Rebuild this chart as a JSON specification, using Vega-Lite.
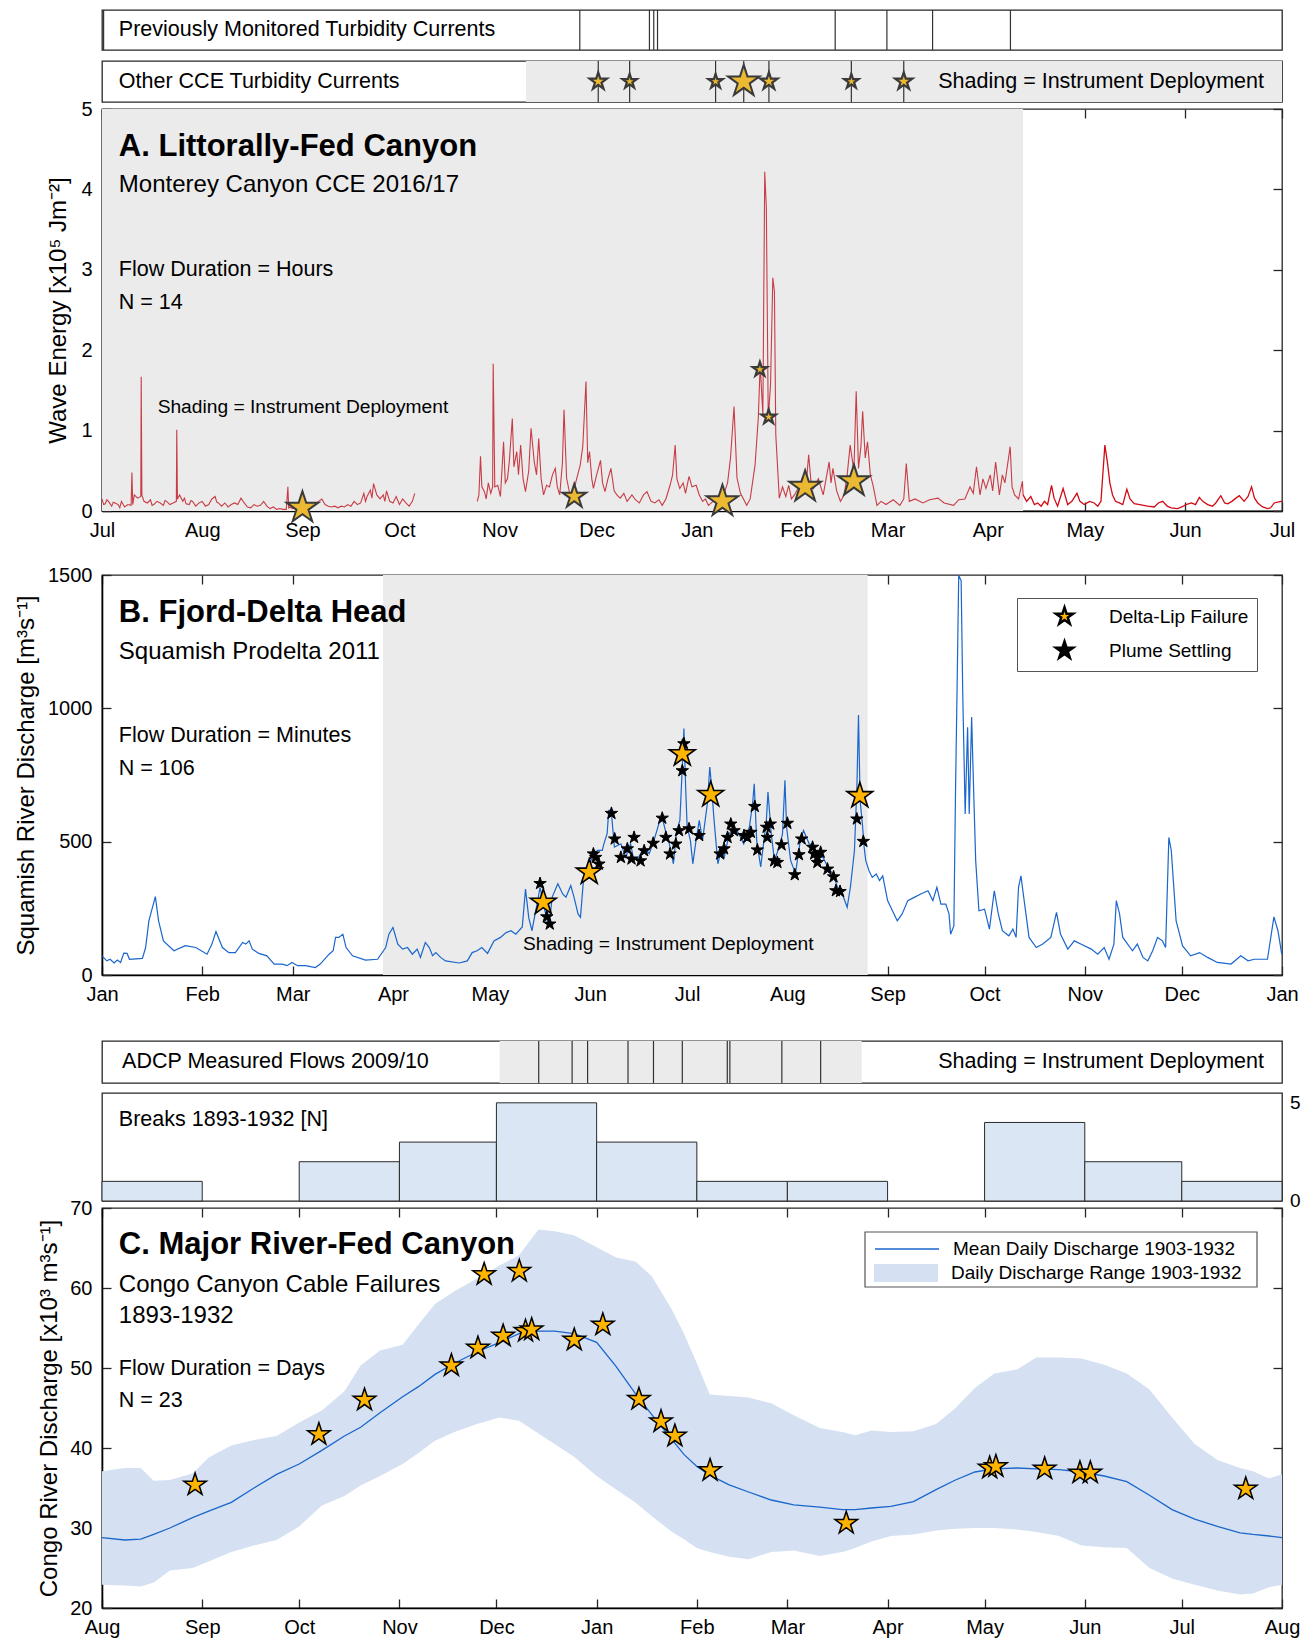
{
"$schema": "https://vega.github.io/schema/vega-lite/v6.json",
"background": "white",
"padding": {"left": 13, "top": 8, "right": 10, "bottom": 10},
"spacing": 0,
"bounds": "flush",
"resolve": {"scale": {"fill": "independent", "stroke": "independent", "color": "independent"}, "legend": {"fill": "independent", "stroke": "independent", "color": "independent"}},
"config": {
 "font": "Liberation Sans",
 "view": {"stroke": "#262626", "strokeWidth": 1.3},
 "axis": {"labelFontSize": 20, "labelColor": "#000", "titleFontSize": 24, "titleFontWeight": "normal", "titleColor": "#000", "tickSize": -9, "tickColor": "#262626", "tickWidth": 1.3, "domainColor": "#000", "domainWidth": 1.6, "labelFlush": false, "labelOverlap": false, "grid": false},
 "axisX": {"labelPadding": 18.5},
 "axisY": {"labelPadding": 19},
 "legend": {"symbolOpacity": 1, "labelLimit": 400}
},
"vconcat": [
{
 "width": 1180, "height": 40,
 "layer": [
  {"data": {"values": [{"d":"2016-07-01T12:00:00Z"},{"d":"2016-11-25T19:00:00Z"},{"d":"2016-12-17T08:00:00Z"},{"d":"2016-12-18T16:00:00Z"},{"d":"2016-12-19T20:00:00Z"},{"d":"2017-02-12T19:00:00Z"},{"d":"2017-02-28T19:00:00Z"},{"d":"2017-03-14T22:00:00Z"},{"d":"2017-04-08"}]},
   "mark": {"type":"rule","color":"#333","strokeWidth":1.2},
   "encoding": {"x": {"field":"d","type":"temporal","scale":{"type":"utc","domain":[{"year":2016,"month":7,"date":1,"utc":true},{"year":2017,"month":7,"date":1,"utc":true}],"nice":false},"axis":null}}},
  {"data": {"values": [{"d":"2016-07-06T05:00:00Z","t":"Previously Monitored Turbidity Currents"}]},
   "mark": {"type":"text","align":"left","baseline":"middle","fontSize":21.5,"color":"#000"},
   "encoding": {"x": {"field":"d","type":"temporal","axis":null}, "text": {"field":"t"}}}
 ]
},
{"width": 1, "height": 11, "data": {"values": [{}]}, "mark": {"type":"point","opacity":0}, "view": {"stroke": "transparent"}},
{
 "width": 1180, "height": 41,
 "layer": [
  {"data": {"values": [{"a":"2016-11-09T03:00:00Z","b":"2017-07-01"}]},
   "mark": {"type":"rect","color":"#ebebeb"},
   "encoding": {"x": {"field":"a","type":"temporal","scale":{"type":"utc","domain":[{"year":2016,"month":7,"date":1,"utc":true},{"year":2017,"month":7,"date":1,"utc":true}],"nice":false},"axis":null}, "x2": {"field":"b"}}},
  {"data": {"values": [{"d":"2016-12-01T12:00:00Z"},{"d":"2016-12-11T05:00:00Z"},{"d":"2017-01-06T19:00:00Z"},{"d":"2017-01-15T12:00:00Z"},{"d":"2017-01-23T07:00:00Z"},{"d":"2017-02-17T19:00:00Z"},{"d":"2017-03-06"}]},
   "mark": {"type":"rule","color":"#333","strokeWidth":1.2},
   "encoding": {"x": {"field":"d","type":"temporal","axis":null}}},
  {"data": {"values": [{"d":"2016-12-11T05:00:00Z"},{"d":"2017-01-06T19:00:00Z"},{"d":"2017-02-17T19:00:00Z"}]},
   "mark": {"type":"point","shape":"M0,-1L0.225,-0.309L0.951,-0.309L0.363,0.118L0.588,0.809L0,0.382L-0.588,0.809L-0.363,0.118L-0.951,-0.309L-0.225,-0.309Z","size":230,"filled":true,"fill":"#ebb932","stroke":"#3a3a3a","strokeWidth":2.2,"opacity":1},
   "encoding": {"x": {"field":"d","type":"temporal","axis":null}}},
  {"data": {"values": [{"d":"2016-12-01T12:00:00Z"},{"d":"2017-01-23T07:00:00Z"},{"d":"2017-03-06"}]},
   "mark": {"type":"point","shape":"M0,-1L0.225,-0.309L0.951,-0.309L0.363,0.118L0.588,0.809L0,0.382L-0.588,0.809L-0.363,0.118L-0.951,-0.309L-0.225,-0.309Z","size":330,"filled":true,"fill":"#ebb932","stroke":"#3a3a3a","strokeWidth":2.2,"opacity":1},
   "encoding": {"x": {"field":"d","type":"temporal","axis":null}}},
  {"data": {"values": [{"d":"2017-01-15T12:00:00Z"}]},
   "mark": {"type":"point","shape":"M0,-1L0.225,-0.309L0.951,-0.309L0.363,0.118L0.588,0.809L0,0.382L-0.588,0.809L-0.363,0.118L-0.951,-0.309L-0.225,-0.309Z","size":1100,"filled":true,"fill":"#ebb932","stroke":"#3a3a3a","strokeWidth":2,"opacity":1},
   "encoding": {"x": {"field":"d","type":"temporal","axis":null}}},
  {"data": {"values": [{"d":"2016-07-06T05:00:00Z","t":"Other CCE Turbidity Currents"}]},
   "mark": {"type":"text","align":"left","baseline":"middle","fontSize":21.5,"color":"#000"},
   "encoding": {"x": {"field":"d","type":"temporal","axis":null}, "text": {"field":"t"}}},
  {"data": {"values": [{"d":"2017-06-25T10:00:00Z","t":"Shading = Instrument Deployment"}]},
   "mark": {"type":"text","align":"right","baseline":"middle","fontSize":21.5,"color":"#000"},
   "encoding": {"x": {"field":"d","type":"temporal","axis":null}, "text": {"field":"t"}}}
 ]
},
{"width": 1, "height": 7, "data": {"values": [{}]}, "mark": {"type":"point","opacity":0}, "view": {"stroke": "transparent"}},
{
 "width": 1180, "height": 402,
 "layer": [
  {"data": {"values": [{"a":"2016-07-01","b":"2017-04-11T22:00:00Z"}]},
   "mark": {"type":"rect","color":"#ebebeb"},
   "encoding": {"x": {"field":"a","type":"temporal","scale":{"type":"utc","domain":[{"year":2016,"month":7,"date":1,"utc":true},{"year":2017,"month":7,"date":1,"utc":true}],"nice":false},"axis":{"orient":"bottom","format":"%b","tickCount":"month","title":null}}, "x2": {"field":"b"}}},
  {"data": {"values": [
{"d":"2016-07-01","v":0.15},{"d":"2016-07-01T12:00:00Z","v":0.08},{"d":"2016-07-02","v":0.09},{"d":"2016-07-02T12:00:00Z","v":0.14},{"d":"2016-07-03","v":0.12},{"d":"2016-07-04","v":0.06},{"d":"2016-07-04T12:00:00Z","v":0.11},{"d":"2016-07-05","v":0.10},{"d":"2016-07-06","v":0.08},{"d":"2016-07-06T12:00:00Z","v":0.04},{"d":"2016-07-07","v":0.12},{"d":"2016-07-08","v":0.05},{"d":"2016-07-09","v":0.08},{"d":"2016-07-10","v":0.07},{"d":"2016-07-10T06:00:00Z","v":0.48},{"d":"2016-07-10T12:00:00Z","v":0.08},{"d":"2016-07-11","v":0.20},{"d":"2016-07-12","v":0.16},{"d":"2016-07-13","v":0.18},{"d":"2016-07-13T03:00:00Z","v":1.67},{"d":"2016-07-13T08:00:00Z","v":0.20},{"d":"2016-07-14","v":0.12},{"d":"2016-07-15","v":0.10},{"d":"2016-07-16","v":0.14},{"d":"2016-07-16T12:00:00Z","v":0.07},{"d":"2016-07-17","v":0.08},{"d":"2016-07-18","v":0.12},{"d":"2016-07-19","v":0.10},{"d":"2016-07-20","v":0.07},{"d":"2016-07-20T12:00:00Z","v":0.13},{"d":"2016-07-21","v":0.12},{"d":"2016-07-22","v":0.08},{"d":"2016-07-23","v":0.10},{"d":"2016-07-24","v":0.12},{"d":"2016-07-24T03:00:00Z","v":1.01},{"d":"2016-07-24T08:00:00Z","v":0.15},{"d":"2016-07-25","v":0.20},{"d":"2016-07-26","v":0.12},{"d":"2016-07-26T12:00:00Z","v":0.16},{"d":"2016-07-27","v":0.09},{"d":"2016-07-28","v":0.08},{"d":"2016-07-28T12:00:00Z","v":0.13},{"d":"2016-07-29","v":0.12},{"d":"2016-07-30","v":0.06},{"d":"2016-07-31","v":0.10},{"d":"2016-08-01","v":0.12},{"d":"2016-08-02","v":0.06},{"d":"2016-08-03","v":0.08},{"d":"2016-08-04","v":0.15},{"d":"2016-08-05","v":0.18},{"d":"2016-08-05T12:00:00Z","v":0.11},{"d":"2016-08-06","v":0.10},{"d":"2016-08-07","v":0.06},{"d":"2016-08-08","v":0.10},{"d":"2016-08-09","v":0.05},{"d":"2016-08-10","v":0.08},{"d":"2016-08-11","v":0.10},{"d":"2016-08-12","v":0.08},{"d":"2016-08-13","v":0.16},{"d":"2016-08-14","v":0.10},{"d":"2016-08-15","v":0.05},{"d":"2016-08-16","v":0.04},{"d":"2016-08-17","v":0.08},{"d":"2016-08-18","v":0.06},{"d":"2016-08-19","v":0.07},{"d":"2016-08-20","v":0.12},{"d":"2016-08-21","v":0.06},{"d":"2016-08-22","v":0.03},{"d":"2016-08-23","v":0.05},{"d":"2016-08-24","v":0.02},{"d":"2016-08-25","v":0.03},{"d":"2016-08-26","v":0.02},{"d":"2016-08-27","v":0.02},{"d":"2016-08-27T12:00:00Z","v":0.30},{"d":"2016-08-27T18:00:00Z","v":0.03},{"d":"2016-08-28","v":0.05},{"d":"2016-08-29","v":0.03},{"d":"2016-08-30","v":0.06},{"d":"2016-08-31","v":0.08},{"d":"2016-09-01","v":0.10},{"d":"2016-09-02","v":0.12},{"d":"2016-09-03","v":0.08},{"d":"2016-09-04","v":0.10},{"d":"2016-09-05","v":0.08},{"d":"2016-09-06","v":0.12},{"d":"2016-09-07","v":0.15},{"d":"2016-09-08","v":0.08},{"d":"2016-09-09","v":0.06},{"d":"2016-09-10","v":0.05},{"d":"2016-09-11","v":0.06},{"d":"2016-09-12","v":0.04},{"d":"2016-09-13","v":0.06},{"d":"2016-09-14","v":0.05},{"d":"2016-09-15","v":0.08},{"d":"2016-09-16","v":0.06},{"d":"2016-09-17","v":0.12},{"d":"2016-09-18","v":0.08},{"d":"2016-09-19","v":0.10},{"d":"2016-09-20","v":0.22},{"d":"2016-09-20T12:00:00Z","v":0.12},{"d":"2016-09-21","v":0.18},{"d":"2016-09-22","v":0.26},{"d":"2016-09-22T12:00:00Z","v":0.16},{"d":"2016-09-23","v":0.34},{"d":"2016-09-24","v":0.20},{"d":"2016-09-25","v":0.15},{"d":"2016-09-26","v":0.20},{"d":"2016-09-26T12:00:00Z","v":0.12},{"d":"2016-09-27","v":0.25},{"d":"2016-09-28","v":0.12},{"d":"2016-09-29","v":0.10},{"d":"2016-09-30","v":0.18},{"d":"2016-10-01","v":0.08},{"d":"2016-10-02","v":0.15},{"d":"2016-10-03","v":0.10},{"d":"2016-10-04","v":0.06},{"d":"2016-10-05","v":0.12},{"d":"2016-10-05T18:00:00Z","v":0.22}
  ]},
   "mark": {"type":"line","color":"#c83c46","strokeWidth":1.1},
   "encoding": {"x": {"field":"d","type":"temporal","axis":null}, "y": {"field":"v","type":"quantitative","scale":{"domain":[0,5],"nice":false},"axis":{"orient":"left","values":[0,1,2,3,4,5],"title":"Wave Energy [x10⁵ Jm⁻²]","titleX":-32}}}},
  {"data": {"values": [
{"d":"2016-10-25T02:00:00Z","v":0.12},{"d":"2016-10-25T14:00:00Z","v":0.20},{"d":"2016-10-26T02:00:00Z","v":0.68},{"d":"2016-10-26T12:00:00Z","v":0.30},{"d":"2016-10-27T07:00:00Z","v":0.24},{"d":"2016-10-27T20:00:00Z","v":0.15},{"d":"2016-10-28T12:00:00Z","v":0.35},{"d":"2016-10-29T06:00:00Z","v":0.22},{"d":"2016-10-29T20:00:00Z","v":0.30},{"d":"2016-10-30T00:00:00Z","v":1.83},{"d":"2016-10-30T12:00:00Z","v":0.30},{"d":"2016-10-31T10:00:00Z","v":0.32},{"d":"2016-11-01T06:00:00Z","v":0.18},{"d":"2016-11-02T05:00:00Z","v":0.86},{"d":"2016-11-02T18:00:00Z","v":0.35},{"d":"2016-11-03T10:00:00Z","v":0.40},{"d":"2016-11-04T00:00:00Z","v":0.62},{"d":"2016-11-04T22:00:00Z","v":1.15},{"d":"2016-11-05T10:00:00Z","v":0.55},{"d":"2016-11-06T07:00:00Z","v":0.74},{"d":"2016-11-06T20:00:00Z","v":0.45},{"d":"2016-11-07T12:00:00Z","v":0.82},{"d":"2016-11-08T06:00:00Z","v":0.40},{"d":"2016-11-09T00:00:00Z","v":0.24},{"d":"2016-11-10T00:00:00Z","v":0.50},{"d":"2016-11-10T17:00:00Z","v":1.03},{"d":"2016-11-11T17:00:00Z","v":0.61},{"d":"2016-11-12T10:00:00Z","v":0.45},{"d":"2016-11-13T02:00:00Z","v":0.90},{"d":"2016-11-13T20:00:00Z","v":0.40},{"d":"2016-11-14T14:00:00Z","v":0.20},{"d":"2016-11-15T12:00:00Z","v":0.32},{"d":"2016-11-16T10:00:00Z","v":0.30},{"d":"2016-11-17T08:00:00Z","v":0.45},{"d":"2016-11-18T05:00:00Z","v":0.53},{"d":"2016-11-18T20:00:00Z","v":0.30},{"d":"2016-11-19T14:00:00Z","v":0.20},{"d":"2016-11-20T10:00:00Z","v":0.60},{"d":"2016-11-20T22:00:00Z","v":1.26},{"d":"2016-11-21T17:00:00Z","v":0.41},{"d":"2016-11-22T12:00:00Z","v":0.25},{"d":"2016-11-23T12:00:00Z","v":0.12},{"d":"2016-11-24T12:00:00Z","v":0.35},{"d":"2016-11-25T22:00:00Z","v":0.57},{"d":"2016-11-26T17:00:00Z","v":0.80},{"d":"2016-11-27T17:00:00Z","v":1.61},{"d":"2016-11-28T06:00:00Z","v":0.60},{"d":"2016-11-28T19:00:00Z","v":0.74},{"d":"2016-11-29T12:00:00Z","v":0.40},{"d":"2016-11-30T00:00:00Z","v":0.28},{"d":"2016-12-01T00:00:00Z","v":0.45},{"d":"2016-12-02T05:00:00Z","v":0.63},{"d":"2016-12-02T20:00:00Z","v":0.35},{"d":"2016-12-03T14:00:00Z","v":0.24},{"d":"2016-12-04T12:00:00Z","v":0.40},{"d":"2016-12-05T10:00:00Z","v":0.53},{"d":"2016-12-06T10:00:00Z","v":0.25},{"d":"2016-12-07T06:00:00Z","v":0.20},{"d":"2016-12-08T07:00:00Z","v":0.16},{"d":"2016-12-09T10:00:00Z","v":0.22},{"d":"2016-12-10T10:00:00Z","v":0.12},{"d":"2016-12-11T22:00:00Z","v":0.20},{"d":"2016-12-13T00:00:00Z","v":0.14},{"d":"2016-12-14T05:00:00Z","v":0.10},{"d":"2016-12-15T12:00:00Z","v":0.20},{"d":"2016-12-16T14:00:00Z","v":0.24},{"d":"2016-12-17T20:00:00Z","v":0.12},{"d":"2016-12-19T00:00:00Z","v":0.10},{"d":"2016-12-20T06:00:00Z","v":0.14},{"d":"2016-12-21T07:00:00Z","v":0.07},{"d":"2016-12-22T10:00:00Z","v":0.15},{"d":"2016-12-23T17:00:00Z","v":0.32},{"d":"2016-12-24T12:00:00Z","v":0.45},{"d":"2016-12-25T07:00:00Z","v":0.82},{"d":"2016-12-25T20:00:00Z","v":0.40},{"d":"2016-12-26T17:00:00Z","v":0.28},{"d":"2016-12-27T18:00:00Z","v":0.35},{"d":"2016-12-28T12:00:00Z","v":0.22},{"d":"2016-12-29T14:00:00Z","v":0.43},{"d":"2016-12-30T12:00:00Z","v":0.30},{"d":"2016-12-31T19:00:00Z","v":0.32},{"d":"2017-01-01T18:00:00Z","v":0.20},{"d":"2017-01-02T19:00:00Z","v":0.12},{"d":"2017-01-03T16:00:00Z","v":0.15},{"d":"2017-01-04T14:00:00Z","v":0.07},{"d":"2017-01-06T00:00:00Z","v":0.12},{"d":"2017-01-07T12:00:00Z","v":0.15},{"d":"2017-01-09T07:00:00Z","v":0.20},{"d":"2017-01-10T12:00:00Z","v":0.35},{"d":"2017-01-11T10:00:00Z","v":0.66},{"d":"2017-01-12T12:00:00Z","v":1.30},{"d":"2017-01-13T10:00:00Z","v":0.41},{"d":"2017-01-14T12:00:00Z","v":0.22},{"d":"2017-01-16T10:00:00Z","v":0.07},{"d":"2017-01-17T12:00:00Z","v":0.15},{"d":"2017-01-19T00:00:00Z","v":0.57},{"d":"2017-01-20T00:00:00Z","v":1.15},{"d":"2017-01-20T14:00:00Z","v":1.82},{"d":"2017-01-21T10:00:00Z","v":1.20},{"d":"2017-01-22T00:00:00Z","v":4.22},{"d":"2017-01-22T12:00:00Z","v":3.77},{"d":"2017-01-23T02:00:00Z","v":1.15},{"d":"2017-01-23T19:00:00Z","v":1.57},{"d":"2017-01-24T12:00:00Z","v":2.90},{"d":"2017-01-25T00:00:00Z","v":2.73},{"d":"2017-01-25T10:00:00Z","v":0.95},{"d":"2017-01-26T12:00:00Z","v":0.16},{"d":"2017-01-27T12:00:00Z","v":0.30},{"d":"2017-01-28T12:00:00Z","v":0.18},{"d":"2017-01-29T10:00:00Z","v":0.32},{"d":"2017-01-30T06:00:00Z","v":0.15},{"d":"2017-01-31T05:00:00Z","v":0.20},{"d":"2017-02-01T12:00:00Z","v":0.30},{"d":"2017-02-02T14:00:00Z","v":0.41},{"d":"2017-02-03T16:00:00Z","v":0.25},{"d":"2017-02-04T14:00:00Z","v":0.70},{"d":"2017-02-05T08:00:00Z","v":0.35},{"d":"2017-02-06T02:00:00Z","v":0.28},{"d":"2017-02-07T14:00:00Z","v":0.40},{"d":"2017-02-09T02:00:00Z","v":0.20},{"d":"2017-02-10T22:00:00Z","v":0.61},{"d":"2017-02-11T12:00:00Z","v":0.35},{"d":"2017-02-12T02:00:00Z","v":0.53},{"d":"2017-02-13T06:00:00Z","v":0.25},{"d":"2017-02-14T10:00:00Z","v":0.12},{"d":"2017-02-15T14:00:00Z","v":0.20},{"d":"2017-02-16T12:00:00Z","v":0.45},{"d":"2017-02-17T10:00:00Z","v":0.82},{"d":"2017-02-18T14:00:00Z","v":0.50},{"d":"2017-02-19T07:00:00Z","v":1.49},{"d":"2017-02-20T00:00:00Z","v":0.53},{"d":"2017-02-20T18:00:00Z","v":0.80},{"d":"2017-02-21T07:00:00Z","v":1.24},{"d":"2017-02-22T02:00:00Z","v":0.66},{"d":"2017-02-22T19:00:00Z","v":0.86},{"d":"2017-02-23T16:00:00Z","v":0.45},{"d":"2017-02-24T12:00:00Z","v":0.32},{"d":"2017-02-25T17:00:00Z","v":0.07},{"d":"2017-02-27T00:00:00Z","v":0.12},{"d":"2017-02-28T12:00:00Z","v":0.08},{"d":"2017-03-01T05:00:00Z","v":0.10},{"d":"2017-03-02T18:00:00Z","v":0.14},{"d":"2017-03-04T19:00:00Z","v":0.07},{"d":"2017-03-06T00:00:00Z","v":0.15},{"d":"2017-03-06T19:00:00Z","v":0.59},{"d":"2017-03-07T17:00:00Z","v":0.12},{"d":"2017-03-09T12:00:00Z","v":0.15},{"d":"2017-03-11T22:00:00Z","v":0.10},{"d":"2017-03-14T00:00:00Z","v":0.14},{"d":"2017-03-16T14:00:00Z","v":0.16},{"d":"2017-03-18T12:00:00Z","v":0.10},{"d":"2017-03-21T10:00:00Z","v":0.07},{"d":"2017-03-23T00:00:00Z","v":0.14},{"d":"2017-03-24T22:00:00Z","v":0.15},{"d":"2017-03-26T12:00:00Z","v":0.30},{"d":"2017-03-27T12:00:00Z","v":0.22},{"d":"2017-03-28T12:00:00Z","v":0.55},{"d":"2017-03-29T14:00:00Z","v":0.20},{"d":"2017-03-30T12:00:00Z","v":0.40},{"d":"2017-03-31T10:00:00Z","v":0.28},{"d":"2017-04-01T18:00:00Z","v":0.45},{"d":"2017-04-02T12:00:00Z","v":0.25},{"d":"2017-04-03T10:00:00Z","v":0.61},{"d":"2017-04-04T14:00:00Z","v":0.20},{"d":"2017-04-05T12:00:00Z","v":0.45},{"d":"2017-04-06T07:00:00Z","v":0.35},{"d":"2017-04-07T22:00:00Z","v":0.80},{"d":"2017-04-08T12:00:00Z","v":0.30},{"d":"2017-04-09T07:00:00Z","v":0.20},{"d":"2017-04-10T12:00:00Z","v":0.15},{"d":"2017-04-11T17:00:00Z","v":0.37},{"d":"2017-04-11T22:00:00Z","v":0.20}
  ]},
   "mark": {"type":"line","color":"#c83c46","strokeWidth":1.1},
   "encoding": {"x": {"field":"d","type":"temporal","axis":null}, "y": {"field":"v","type":"quantitative","axis":null}}},
  {"data": {"values": [
{"d":"2017-04-11T22:00:00Z","v":0.20},{"d":"2017-04-13T00:00:00Z","v":0.12},{"d":"2017-04-14T07:00:00Z","v":0.18},{"d":"2017-04-15T10:00:00Z","v":0.08},{"d":"2017-04-16T10:00:00Z","v":0.10},{"d":"2017-04-17T12:00:00Z","v":0.06},{"d":"2017-04-18T12:00:00Z","v":0.12},{"d":"2017-04-19T12:00:00Z","v":0.08},{"d":"2017-04-20T17:00:00Z","v":0.32},{"d":"2017-04-21T12:00:00Z","v":0.16},{"d":"2017-04-22T14:00:00Z","v":0.06},{"d":"2017-04-24T07:00:00Z","v":0.28},{"d":"2017-04-25T17:00:00Z","v":0.08},{"d":"2017-04-27T00:00:00Z","v":0.12},{"d":"2017-04-28T14:00:00Z","v":0.22},{"d":"2017-04-29T12:00:00Z","v":0.12},{"d":"2017-04-30T19:00:00Z","v":0.08},{"d":"2017-05-02T12:00:00Z","v":0.12},{"d":"2017-05-03T22:00:00Z","v":0.10},{"d":"2017-05-05T00:00:00Z","v":0.06},{"d":"2017-05-06T00:00:00Z","v":0.12},{"d":"2017-05-07T05:00:00Z","v":0.82},{"d":"2017-05-08T02:00:00Z","v":0.58},{"d":"2017-05-08T18:00:00Z","v":0.35},{"d":"2017-05-09T14:00:00Z","v":0.20},{"d":"2017-05-10T12:00:00Z","v":0.12},{"d":"2017-05-11T17:00:00Z","v":0.10},{"d":"2017-05-12T18:00:00Z","v":0.08},{"d":"2017-05-14T00:00:00Z","v":0.27},{"d":"2017-05-15T00:00:00Z","v":0.15},{"d":"2017-05-16T07:00:00Z","v":0.09},{"d":"2017-05-18T00:00:00Z","v":0.08},{"d":"2017-05-20T10:00:00Z","v":0.06},{"d":"2017-05-22T12:00:00Z","v":0.05},{"d":"2017-05-23T18:00:00Z","v":0.10},{"d":"2017-05-25T02:00:00Z","v":0.12},{"d":"2017-05-26T12:00:00Z","v":0.06},{"d":"2017-05-27T17:00:00Z","v":0.04},{"d":"2017-05-29T17:00:00Z","v":0.03},{"d":"2017-05-31T00:00:00Z","v":0.05},{"d":"2017-06-01T07:00:00Z","v":0.08},{"d":"2017-06-03T00:00:00Z","v":0.10},{"d":"2017-06-04T06:00:00Z","v":0.08},{"d":"2017-06-05T10:00:00Z","v":0.17},{"d":"2017-06-06T12:00:00Z","v":0.12},{"d":"2017-06-08T00:00:00Z","v":0.08},{"d":"2017-06-09T12:00:00Z","v":0.06},{"d":"2017-06-10T12:00:00Z","v":0.10},{"d":"2017-06-12T02:00:00Z","v":0.19},{"d":"2017-06-13T06:00:00Z","v":0.10},{"d":"2017-06-14T05:00:00Z","v":0.09},{"d":"2017-06-15T12:00:00Z","v":0.12},{"d":"2017-06-16T18:00:00Z","v":0.16},{"d":"2017-06-17T19:00:00Z","v":0.19},{"d":"2017-06-19T07:00:00Z","v":0.12},{"d":"2017-06-20T12:00:00Z","v":0.18},{"d":"2017-06-21T14:00:00Z","v":0.30},{"d":"2017-06-22T12:00:00Z","v":0.16},{"d":"2017-06-23T12:00:00Z","v":0.10},{"d":"2017-06-25T00:00:00Z","v":0.05},{"d":"2017-06-26T14:00:00Z","v":0.03},{"d":"2017-06-27T12:00:00Z","v":0.04},{"d":"2017-06-28T14:00:00Z","v":0.10},{"d":"2017-06-30T17:00:00Z","v":0.12},{"d":"2017-07-01","v":0.12}
  ]},
   "mark": {"type":"line","color":"#d20a14","strokeWidth":1.3},
   "encoding": {"x": {"field":"d","type":"temporal","axis":null}, "y": {"field":"v","type":"quantitative","axis":null}}},
  {"data": {"values": [{"d":"2017-01-20T12:00:00Z","v":1.76},{"d":"2017-01-23T05:00:00Z","v":1.17}]},
   "mark": {"type":"point","shape":"M0,-1L0.225,-0.309L0.951,-0.309L0.363,0.118L0.588,0.809L0,0.382L-0.588,0.809L-0.363,0.118L-0.951,-0.309L-0.225,-0.309Z","size":230,"filled":true,"fill":"#ebb932","stroke":"#3a3a3a","strokeWidth":2.2,"opacity":1},
   "encoding": {"x": {"field":"d","type":"temporal","axis":null}, "y": {"field":"v","type":"quantitative","axis":null}}},
  {"data": {"values": [{"d":"2016-11-24T02:00:00Z","v":0.18}]},
   "mark": {"type":"point","shape":"M0,-1L0.225,-0.309L0.951,-0.309L0.363,0.118L0.588,0.809L0,0.382L-0.588,0.809L-0.363,0.118L-0.951,-0.309L-0.225,-0.309Z","size":620,"filled":true,"fill":"#ebb932","stroke":"#3a3a3a","strokeWidth":2,"opacity":1},
   "encoding": {"x": {"field":"d","type":"temporal","axis":null}, "y": {"field":"v","type":"quantitative","axis":null}}},
  {"data": {"values": [{"d":"2016-09-01","v":0.04},{"d":"2017-01-08T22:00:00Z","v":0.12},{"d":"2017-02-03T12:00:00Z","v":0.30},{"d":"2017-02-18T14:00:00Z","v":0.37}]},
   "mark": {"type":"point","shape":"M0,-1L0.225,-0.309L0.951,-0.309L0.363,0.118L0.588,0.809L0,0.382L-0.588,0.809L-0.363,0.118L-0.951,-0.309L-0.225,-0.309Z","size":1100,"filled":true,"fill":"#ebb932","stroke":"#3a3a3a","strokeWidth":2,"opacity":1},
   "encoding": {"x": {"field":"d","type":"temporal","axis":null}, "y": {"field":"v","type":"quantitative","axis":null}}},
  {"data": {"values": [{"d":"2016-07-06T05:00:00Z","v":4.53,"t":"A. Littorally-Fed Canyon"}]},
   "mark": {"type":"text","align":"left","baseline":"middle","fontSize":31,"fontWeight":"bold","color":"#000"},
   "encoding": {"x": {"field":"d","type":"temporal","axis":null}, "y": {"field":"v","type":"quantitative","axis":null}, "text": {"field":"t"}}},
  {"data": {"values": [{"d":"2016-07-06T05:00:00Z","v":4.05,"t":"Monterey Canyon CCE 2016/17"}]},
   "mark": {"type":"text","align":"left","baseline":"middle","fontSize":24,"color":"#000"},
   "encoding": {"x": {"field":"d","type":"temporal","axis":null}, "y": {"field":"v","type":"quantitative","axis":null}, "text": {"field":"t"}}},
  {"data": {"values": [{"d":"2016-07-06T05:00:00Z","v":3.0,"t":"Flow Duration = Hours"},{"d":"2016-07-06T05:00:00Z","v":2.59,"t":"N = 14"}]},
   "mark": {"type":"text","align":"left","baseline":"middle","fontSize":21.5,"color":"#000"},
   "encoding": {"x": {"field":"d","type":"temporal","axis":null}, "y": {"field":"v","type":"quantitative","axis":null}, "text": {"field":"t"}}},
  {"data": {"values": [{"d":"2016-07-18T05:00:00Z","v":1.29,"t":"Shading = Instrument Deployment"}]},
   "mark": {"type":"text","align":"left","baseline":"middle","fontSize":19.2,"color":"#000"},
   "encoding": {"x": {"field":"d","type":"temporal","axis":null}, "y": {"field":"v","type":"quantitative","axis":null}, "text": {"field":"t"}}},
  {"data": {"values": []},
   "mark": {"type":"point","opacity":0},
   "encoding": {"x": {"field":"d","type":"temporal","axis":{"orient":"top","labels":false,"domain":false,"title":null,"tickCount":"month"}}, "y": {"field":"v","type":"quantitative","axis":{"orient":"right","labels":false,"domain":false,"title":null,"values":[0,1,2,3,4,5]}}}}
 ]
},
{"width": 1, "height": 64, "data": {"values": [{}]}, "mark": {"type":"point","opacity":0}, "view": {"stroke": "transparent"}},
{
 "width": 1180, "height": 400,
 "layer": [
  {"data": {"values": [{"a":"2011-03-28T22:00:00Z","b":"2011-08-25T20:00:00Z"}]},
   "mark": {"type":"rect","color":"#ebebeb"},
   "encoding": {"x": {"field":"a","type":"temporal","scale":{"type":"utc","domain":[{"year":2011,"month":1,"date":1,"utc":true},{"year":2012,"month":1,"date":1,"utc":true}],"nice":false},"axis":{"orient":"bottom","format":"%b","tickCount":"month","title":null}}, "x2": {"field":"b"}}},
  {"data": {"values": [
{"d":"2011-01-01","v":72},{"d":"2011-01-02T12:00:00Z","v":53},{"d":"2011-01-03T12:00:00Z","v":59},{"d":"2011-01-04T18:00:00Z","v":45},{"d":"2011-01-05T18:00:00Z","v":56},{"d":"2011-01-06T18:00:00Z","v":47},{"d":"2011-01-07T18:00:00Z","v":82},{"d":"2011-01-08T18:00:00Z","v":81},{"d":"2011-01-09T12:00:00Z","v":59},{"d":"2011-01-13T12:00:00Z","v":62},{"d":"2011-01-14T12:00:00Z","v":103},{"d":"2011-01-15T12:00:00Z","v":203},{"d":"2011-01-17T12:00:00Z","v":294},{"d":"2011-01-18T12:00:00Z","v":203},{"d":"2011-01-20","v":128},{"d":"2011-01-23T06:00:00Z","v":91},{"d":"2011-01-26T18:00:00Z","v":110},{"d":"2011-01-30","v":103},{"d":"2011-02-02T12:00:00Z","v":78},{"d":"2011-02-04","v":116},{"d":"2011-02-05T06:00:00Z","v":163},{"d":"2011-02-07T06:00:00Z","v":103},{"d":"2011-02-09T06:00:00Z","v":84},{"d":"2011-02-11T06:00:00Z","v":84},{"d":"2011-02-13T12:00:00Z","v":122},{"d":"2011-02-14T12:00:00Z","v":116},{"d":"2011-02-15T12:00:00Z","v":128},{"d":"2011-02-16T12:00:00Z","v":97},{"d":"2011-02-18T12:00:00Z","v":81},{"d":"2011-02-21","v":72},{"d":"2011-02-23T06:00:00Z","v":41},{"d":"2011-02-25T18:00:00Z","v":41},{"d":"2011-02-27T06:00:00Z","v":35},{"d":"2011-02-28T18:00:00Z","v":47},{"d":"2011-03-02T12:00:00Z","v":35},{"d":"2011-03-05","v":35},{"d":"2011-03-08","v":28},{"d":"2011-03-09T12:00:00Z","v":41},{"d":"2011-03-12T06:00:00Z","v":78},{"d":"2011-03-13T12:00:00Z","v":91},{"d":"2011-03-14T06:00:00Z","v":141},{"d":"2011-03-15T06:00:00Z","v":141},{"d":"2011-03-16T12:00:00Z","v":153},{"d":"2011-03-17T12:00:00Z","v":103},{"d":"2011-03-19T12:00:00Z","v":72},{"d":"2011-03-23T12:00:00Z","v":56},{"d":"2011-03-27T06:00:00Z","v":59},{"d":"2011-03-29T18:00:00Z","v":103},{"d":"2011-03-30T18:00:00Z","v":153},{"d":"2011-04-01","v":178},{"d":"2011-04-02T12:00:00Z","v":116},{"d":"2011-04-04","v":97},{"d":"2011-04-05T12:00:00Z","v":103},{"d":"2011-04-07","v":78},{"d":"2011-04-08T12:00:00Z","v":97},{"d":"2011-04-09T12:00:00Z","v":66},{"d":"2011-04-11","v":122},{"d":"2011-04-12T06:00:00Z","v":103},{"d":"2011-04-13T06:00:00Z","v":72},{"d":"2011-04-14T06:00:00Z","v":84},{"d":"2011-04-15T18:00:00Z","v":66},{"d":"2011-04-17T06:00:00Z","v":53},{"d":"2011-04-21T12:00:00Z","v":45},{"d":"2011-04-24","v":53},{"d":"2011-04-25T12:00:00Z","v":84},{"d":"2011-04-27","v":91},{"d":"2011-04-28T12:00:00Z","v":103},{"d":"2011-04-30T06:00:00Z","v":81},{"d":"2011-05-02T06:00:00Z","v":128},{"d":"2011-05-04T06:00:00Z","v":141},{"d":"2011-05-06","v":159},{"d":"2011-05-07T12:00:00Z","v":166},{"d":"2011-05-09","v":153},{"d":"2011-05-11","v":180},{"d":"2011-05-12","v":322},{"d":"2011-05-13","v":215},{"d":"2011-05-14","v":166},{"d":"2011-05-15T18:00:00Z","v":279},{"d":"2011-05-16T12:00:00Z","v":329},{"d":"2011-05-17T18:00:00Z","v":254},{"d":"2011-05-19T06:00:00Z","v":180},{"d":"2011-05-20T06:00:00Z","v":292},{"d":"2011-05-22","v":342},{"d":"2011-05-23T12:00:00Z","v":304},{"d":"2011-05-24T12:00:00Z","v":292},{"d":"2011-05-26","v":335},{"d":"2011-05-27","v":292},{"d":"2011-05-28T06:00:00Z","v":229},{"d":"2011-05-29","v":216},{"d":"2011-05-30","v":367},{"d":"2011-06-01T06:00:00Z","v":430},{"d":"2011-06-03T06:00:00Z","v":467},{"d":"2011-06-04T18:00:00Z","v":467},{"d":"2011-06-05T06:00:00Z","v":492},{"d":"2011-06-06T06:00:00Z","v":530},{"d":"2011-06-06T18:00:00Z","v":617},{"d":"2011-06-07T12:00:00Z","v":617},{"d":"2011-06-08T12:00:00Z","v":480},{"d":"2011-06-10T12:00:00Z","v":492},{"d":"2011-06-12","v":442},{"d":"2011-06-13T12:00:00Z","v":492},{"d":"2011-06-14T12:00:00Z","v":430},{"d":"2011-06-16","v":442},{"d":"2011-06-17T18:00:00Z","v":480},{"d":"2011-06-19T06:00:00Z","v":455},{"d":"2011-06-20T18:00:00Z","v":505},{"d":"2011-06-22T06:00:00Z","v":567},{"d":"2011-06-23T06:00:00Z","v":592},{"d":"2011-06-24T12:00:00Z","v":530},{"d":"2011-06-25T12:00:00Z","v":492},{"d":"2011-06-26T18:00:00Z","v":417},{"d":"2011-06-27T18:00:00Z","v":542},{"d":"2011-06-28T18:00:00Z","v":580},{"d":"2011-06-29T12:00:00Z","v":780},{"d":"2011-06-30","v":924},{"d":"2011-06-30T12:00:00Z","v":717},{"d":"2011-07-01","v":555},{"d":"2011-07-02","v":505},{"d":"2011-07-02T18:00:00Z","v":417},{"d":"2011-07-03T18:00:00Z","v":505},{"d":"2011-07-04T18:00:00Z","v":580},{"d":"2011-07-05T18:00:00Z","v":505},{"d":"2011-07-07T06:00:00Z","v":642},{"d":"2011-07-08","v":780},{"d":"2011-07-08T12:00:00Z","v":717},{"d":"2011-07-09T06:00:00Z","v":592},{"d":"2011-07-10T12:00:00Z","v":417},{"d":"2011-07-11T12:00:00Z","v":467},{"d":"2011-07-12T12:00:00Z","v":442},{"d":"2011-07-14","v":530},{"d":"2011-07-15T12:00:00Z","v":555},{"d":"2011-07-17","v":530},{"d":"2011-07-18T12:00:00Z","v":492},{"d":"2011-07-20T06:00:00Z","v":555},{"d":"2011-07-21T06:00:00Z","v":642},{"d":"2011-07-21T18:00:00Z","v":717},{"d":"2011-07-22T12:00:00Z","v":505},{"d":"2011-07-23T18:00:00Z","v":405},{"d":"2011-07-24T18:00:00Z","v":505},{"d":"2011-07-25T12:00:00Z","v":580},{"d":"2011-07-26","v":686},{"d":"2011-07-27","v":530},{"d":"2011-07-28","v":430},{"d":"2011-07-29T12:00:00Z","v":480},{"d":"2011-07-30T12:00:00Z","v":530},{"d":"2011-07-31T06:00:00Z","v":730},{"d":"2011-07-31T18:00:00Z","v":555},{"d":"2011-08-02","v":430},{"d":"2011-08-03T12:00:00Z","v":380},{"d":"2011-08-05","v":505},{"d":"2011-08-06","v":542},{"d":"2011-08-07T18:00:00Z","v":492},{"d":"2011-08-09T06:00:00Z","v":480},{"d":"2011-08-10T06:00:00Z","v":442},{"d":"2011-08-12","v":442},{"d":"2011-08-13T12:00:00Z","v":405},{"d":"2011-08-15","v":380},{"d":"2011-08-16T12:00:00Z","v":330},{"d":"2011-08-18","v":304},{"d":"2011-08-19T12:00:00Z","v":254},{"d":"2011-08-20T12:00:00Z","v":330},{"d":"2011-08-21T18:00:00Z","v":467},{"d":"2011-08-22T12:00:00Z","v":705},{"d":"2011-08-23","v":975},{"d":"2011-08-23T12:00:00Z","v":655},{"d":"2011-08-24T06:00:00Z","v":560},{"d":"2011-08-24T18:00:00Z","v":479},{"d":"2011-08-25T06:00:00Z","v":429},{"d":"2011-08-26T06:00:00Z","v":391},{"d":"2011-08-27T06:00:00Z","v":366},{"d":"2011-08-28T12:00:00Z","v":379},{"d":"2011-08-29T12:00:00Z","v":354},{"d":"2011-08-30T12:00:00Z","v":372},{"d":"2011-09-01","v":279},{"d":"2011-09-02T12:00:00Z","v":241},{"d":"2011-09-04","v":203},{"d":"2011-09-05T12:00:00Z","v":229},{"d":"2011-09-07T06:00:00Z","v":279},{"d":"2011-09-09T06:00:00Z","v":291},{"d":"2011-09-11T06:00:00Z","v":304},{"d":"2011-09-13T12:00:00Z","v":316},{"d":"2011-09-15","v":279},{"d":"2011-09-16T06:00:00Z","v":329},{"d":"2011-09-17T12:00:00Z","v":266},{"d":"2011-09-19","v":266},{"d":"2011-09-20","v":229},{"d":"2011-09-20T12:00:00Z","v":153},{"d":"2011-09-21T12:00:00Z","v":184},{"d":"2011-09-22","v":679},{"d":"2011-09-22T12:00:00Z","v":1079},{"d":"2011-09-23","v":1498},{"d":"2011-09-23T18:00:00Z","v":1479},{"d":"2011-09-24T06:00:00Z","v":1054},{"d":"2011-09-25","v":604},{"d":"2011-09-25T18:00:00Z","v":929},{"d":"2011-09-26T06:00:00Z","v":604},{"d":"2011-09-27","v":967},{"d":"2011-09-27T12:00:00Z","v":742},{"d":"2011-09-28T06:00:00Z","v":429},{"d":"2011-09-29T06:00:00Z","v":241},{"d":"2011-10-01","v":247},{"d":"2011-10-02T12:00:00Z","v":172},{"d":"2011-10-04","v":316},{"d":"2011-10-05T06:00:00Z","v":229},{"d":"2011-10-06T12:00:00Z","v":166},{"d":"2011-10-08T12:00:00Z","v":147},{"d":"2011-10-09T18:00:00Z","v":172},{"d":"2011-10-10T18:00:00Z","v":141},{"d":"2011-10-11T12:00:00Z","v":329},{"d":"2011-10-12T06:00:00Z","v":372},{"d":"2011-10-13T06:00:00Z","v":279},{"d":"2011-10-14T18:00:00Z","v":141},{"d":"2011-10-17","v":103},{"d":"2011-10-19","v":116},{"d":"2011-10-21T12:00:00Z","v":141},{"d":"2011-10-23T06:00:00Z","v":235},{"d":"2011-10-24T12:00:00Z","v":153},{"d":"2011-10-26T18:00:00Z","v":97},{"d":"2011-10-28T18:00:00Z","v":128},{"d":"2011-10-30T18:00:00Z","v":116},{"d":"2011-11-03","v":97},{"d":"2011-11-05","v":78},{"d":"2011-11-07","v":103},{"d":"2011-11-08T12:00:00Z","v":59},{"d":"2011-11-10","v":116},{"d":"2011-11-10T18:00:00Z","v":279},{"d":"2011-11-11T18:00:00Z","v":229},{"d":"2011-11-12T18:00:00Z","v":141},{"d":"2011-11-14T06:00:00Z","v":116},{"d":"2011-11-15T18:00:00Z","v":91},{"d":"2011-11-17T06:00:00Z","v":116},{"d":"2011-11-19","v":66},{"d":"2011-11-20T12:00:00Z","v":53},{"d":"2011-11-22","v":91},{"d":"2011-11-23T12:00:00Z","v":141},{"d":"2011-11-25","v":128},{"d":"2011-11-26","v":103},{"d":"2011-11-27","v":516},{"d":"2011-11-27T18:00:00Z","v":467},{"d":"2011-11-29T06:00:00Z","v":203},{"d":"2011-12-01T06:00:00Z","v":109},{"d":"2011-12-03T18:00:00Z","v":72},{"d":"2011-12-06T12:00:00Z","v":84},{"d":"2011-12-09","v":66},{"d":"2011-12-12","v":47},{"d":"2011-12-16T06:00:00Z","v":41},{"d":"2011-12-19T06:00:00Z","v":72},{"d":"2011-12-21T12:00:00Z","v":53},{"d":"2011-12-23T12:00:00Z","v":59},{"d":"2011-12-27T12:00:00Z","v":59},{"d":"2011-12-29T12:00:00Z","v":218},{"d":"2011-12-30T18:00:00Z","v":166},{"d":"2011-12-31T22:00:00Z","v":78}
  ]},
   "mark": {"type":"line","color":"#1a66cc","strokeWidth":1.2},
   "encoding": {"x": {"field":"d","type":"temporal","axis":null}, "y": {"field":"v","type":"quantitative","scale":{"domain":[0,1500],"nice":false},"axis":{"orient":"left","values":[0,500,1000,1500],"format":"d","title":"Squamish River Discharge [m³s⁻¹]","titleX":-64}}}},
  {"data": {"values": [
{"d":"2011-05-16T12:00:00Z","v":343},{"d":"2011-05-18T14:00:00Z","v":218},{"d":"2011-05-19T12:00:00Z","v":191},{"d":"2011-06-02","v":454},{"d":"2011-06-02T17:00:00Z","v":441},{"d":"2011-06-03T17:00:00Z","v":416},{"d":"2011-06-07T14:00:00Z","v":606},{"d":"2011-06-08T14:00:00Z","v":510},{"d":"2011-06-10T12:00:00Z","v":441},{"d":"2011-06-12T12:00:00Z","v":473},{"d":"2011-06-13T19:00:00Z","v":435},{"d":"2011-06-14T14:00:00Z","v":516},{"d":"2011-06-16T14:00:00Z","v":428},{"d":"2011-06-17T17:00:00Z","v":466},{"d":"2011-06-20T12:00:00Z","v":494},{"d":"2011-06-23T07:00:00Z","v":588},{"d":"2011-06-24T10:00:00Z","v":516},{"d":"2011-06-25T17:00:00Z","v":454},{"d":"2011-06-27T12:00:00Z","v":491},{"d":"2011-06-28T12:00:00Z","v":541},{"d":"2011-06-29T12:00:00Z","v":766},{"d":"2011-06-30","v":867},{"d":"2011-07-01T14:00:00Z","v":548},{"d":"2011-07-04T17:00:00Z","v":523},{"d":"2011-07-11T05:00:00Z","v":454},{"d":"2011-07-12T10:00:00Z","v":473},{"d":"2011-07-13T12:00:00Z","v":516},{"d":"2011-07-14T12:00:00Z","v":566},{"d":"2011-07-15T12:00:00Z","v":541},{"d":"2011-07-18T14:00:00Z","v":523},{"d":"2011-07-19T14:00:00Z","v":516},{"d":"2011-07-20T17:00:00Z","v":535},{"d":"2011-07-21T22:00:00Z","v":632},{"d":"2011-07-22T17:00:00Z","v":469},{"d":"2011-07-25T14:00:00Z","v":554},{"d":"2011-07-25T19:00:00Z","v":516},{"d":"2011-07-26T17:00:00Z","v":566},{"d":"2011-07-27T22:00:00Z","v":428},{"d":"2011-07-28T22:00:00Z","v":422},{"d":"2011-07-30T05:00:00Z","v":488},{"d":"2011-08-01","v":569},{"d":"2011-08-03T07:00:00Z","v":376},{"d":"2011-08-04T14:00:00Z","v":451},{"d":"2011-08-05T10:00:00Z","v":510},{"d":"2011-08-08T19:00:00Z","v":479},{"d":"2011-08-09T07:00:00Z","v":454},{"d":"2011-08-10T07:00:00Z","v":441},{"d":"2011-08-11T07:00:00Z","v":460},{"d":"2011-08-10T07:00:00Z","v":422},{"d":"2011-08-13T10:00:00Z","v":397},{"d":"2011-08-15T07:00:00Z","v":368},{"d":"2011-08-16","v":316},{"d":"2011-08-17T07:00:00Z","v":313},{"d":"2011-08-22T12:00:00Z","v":585},{"d":"2011-08-24T12:00:00Z","v":501}
  ]},
   "mark": {"type":"point","shape":"M0,-1L0.225,-0.309L0.951,-0.309L0.363,0.118L0.588,0.809L0,0.382L-0.588,0.809L-0.363,0.118L-0.951,-0.309L-0.225,-0.309Z","size":170,"filled":true,"stroke":"black","strokeWidth":1,"opacity":1},
   "encoding": {"x": {"field":"d","type":"temporal","axis":null}, "y": {"field":"v","type":"quantitative","axis":null},
     "fill": {"datum":"Plume Settling","type":"nominal","scale":{"domain":["Delta-Lip Failure","Plume Settling"],"range":["#ffb400","#000000"]},
       "legend": {"orient":"none","legendX":915,"legendY":23,"title":null,"strokeColor":"#555","fillColor":"white","padding":8,"labelFontSize":19,"labelColor":"#000","symbolType":"M0,-1L0.225,-0.309L0.951,-0.309L0.363,0.118L0.588,0.809L0,0.382L-0.588,0.809L-0.363,0.118L-0.951,-0.309L-0.225,-0.309Z","symbolSize":330,"symbolStrokeColor":"#000","symbolStrokeWidth":2.5,"symbolOffset":29,"labelOffset":34,"rowPadding":7}}}},
  {"data": {"values": [{"d":"2011-05-17T12:00:00Z","v":272},{"d":"2011-05-31T17:00:00Z","v":385},{"d":"2011-06-29T12:00:00Z","v":829},{"d":"2011-07-08T07:00:00Z","v":676},{"d":"2011-08-23T10:00:00Z","v":672}]},
   "mark": {"type":"point","shape":"M0,-1L0.225,-0.309L0.951,-0.309L0.363,0.118L0.588,0.809L0,0.382L-0.588,0.809L-0.363,0.118L-0.951,-0.309L-0.225,-0.309Z","size":730,"filled":true,"stroke":"black","strokeWidth":1.6,"opacity":1},
   "encoding": {"x": {"field":"d","type":"temporal","axis":null}, "y": {"field":"v","type":"quantitative","axis":null}, "fill": {"datum":"Delta-Lip Failure","type":"nominal"}}},
  {"data": {"values": [{"d":"2011-01-06T05:00:00Z","v":1359,"t":"B. Fjord-Delta Head"}]},
   "mark": {"type":"text","align":"left","baseline":"middle","fontSize":31,"fontWeight":"bold","color":"#000"},
   "encoding": {"x": {"field":"d","type":"temporal","axis":null}, "y": {"field":"v","type":"quantitative","axis":null}, "text": {"field":"t"}}},
  {"data": {"values": [{"d":"2011-01-06T05:00:00Z","v":1213,"t":"Squamish Prodelta 2011"}]},
   "mark": {"type":"text","align":"left","baseline":"middle","fontSize":24,"color":"#000"},
   "encoding": {"x": {"field":"d","type":"temporal","axis":null}, "y": {"field":"v","type":"quantitative","axis":null}, "text": {"field":"t"}}},
  {"data": {"values": [{"d":"2011-01-06T05:00:00Z","v":895,"t":"Flow Duration = Minutes"},{"d":"2011-01-06T05:00:00Z","v":774,"t":"N = 106"}]},
   "mark": {"type":"text","align":"left","baseline":"middle","fontSize":21.5,"color":"#000"},
   "encoding": {"x": {"field":"d","type":"temporal","axis":null}, "y": {"field":"v","type":"quantitative","axis":null}, "text": {"field":"t"}}},
  {"data": {"values": [{"d":"2011-05-11T05:00:00Z","v":118,"t":"Shading = Instrument Deployment"}]},
   "mark": {"type":"text","align":"left","baseline":"middle","fontSize":19.2,"color":"#000"},
   "encoding": {"x": {"field":"d","type":"temporal","axis":null}, "y": {"field":"v","type":"quantitative","axis":null}, "text": {"field":"t"}}},
  {"data": {"values": []},
   "mark": {"type":"point","opacity":0},
   "encoding": {"x": {"field":"d","type":"temporal","axis":{"orient":"top","labels":false,"domain":false,"title":null,"tickCount":"month"}}, "y": {"field":"v","type":"quantitative","axis":{"orient":"right","labels":false,"domain":false,"title":null,"values":[0,500,1000,1500]}}}}
 ]
},
{"width": 1, "height": 66, "data": {"values": [{}]}, "mark": {"type":"point","opacity":0}, "view": {"stroke": "transparent"}},
{
 "width": 1180, "height": 42,
 "layer": [
  {"data": {"values": [{"a":"2009-12-02","b":"2010-03-24"}]},
   "mark": {"type":"rect","color":"#ebebeb"},
   "encoding": {"x": {"field":"a","type":"temporal","scale":{"type":"utc","domain":[{"year":2009,"month":8,"date":1,"utc":true},{"year":2010,"month":8,"date":1,"utc":true}],"nice":false},"axis":null}, "x2": {"field":"b"}}},
  {"data": {"values": [{"d":"2009-12-14T02:00:00Z"},{"d":"2009-12-24T10:00:00Z"},{"d":"2009-12-29T05:00:00Z"},{"d":"2010-01-10T17:00:00Z"},{"d":"2010-01-18T14:00:00Z"},{"d":"2010-01-27T12:00:00Z"},{"d":"2010-02-10T10:00:00Z"},{"d":"2010-02-11T05:00:00Z"},{"d":"2010-02-27T07:00:00Z"},{"d":"2010-03-11T07:00:00Z"}]},
   "mark": {"type":"rule","color":"#333","strokeWidth":1.2},
   "encoding": {"x": {"field":"d","type":"temporal","axis":null}}},
  {"data": {"values": [{"d":"2009-08-07T05:00:00Z","t":"ADCP Measured Flows 2009/10"}]},
   "mark": {"type":"text","align":"left","baseline":"middle","fontSize":21.5,"color":"#000"},
   "encoding": {"x": {"field":"d","type":"temporal","axis":null}, "text": {"field":"t"}}},
  {"data": {"values": [{"d":"2010-07-26T10:00:00Z","t":"Shading = Instrument Deployment"}]},
   "mark": {"type":"text","align":"right","baseline":"middle","fontSize":21.5,"color":"#000"},
   "encoding": {"x": {"field":"d","type":"temporal","axis":null}, "text": {"field":"t"}}}
 ]
},
{"width": 1, "height": 10, "data": {"values": [{}]}, "mark": {"type":"point","opacity":0}, "view": {"stroke": "transparent"}},
{
 "width": 1180, "height": 108,
 "layer": [
  {"data": {"values": [{"s":"2009-08-01","e":"2009-09-01","n":1},{"s":"2009-10-01","e":"2009-11-01","n":2},{"s":"2009-11-01","e":"2009-12-01","n":3},{"s":"2009-12-01","e":"2010-01-01","n":5},{"s":"2010-01-01","e":"2010-02-01","n":3},{"s":"2010-02-01","e":"2010-03-01","n":1},{"s":"2010-03-01","e":"2010-04-01","n":1},{"s":"2010-05-01","e":"2010-06-01","n":4},{"s":"2010-06-01","e":"2010-07-01","n":2},{"s":"2010-07-01","e":"2010-08-01","n":1}]},
   "mark": {"type":"rect","fill":"#dbe6f4","stroke":"#2a2a2a","strokeWidth":1},
   "encoding": {"x": {"field":"s","type":"temporal","scale":{"type":"utc","domain":[{"year":2009,"month":8,"date":1,"utc":true},{"year":2010,"month":8,"date":1,"utc":true}],"nice":false},"axis":null}, "x2": {"field":"e"},
     "y": {"field":"n","type":"quantitative","scale":{"domain":[0,5.5],"nice":false},"axis":null}, "y2": {"datum":0}}},
  {"data": {"values": [{"d":"2009-08-06T05:00:00Z","v":4.15,"t":"Breaks 1893-1932 [N]"}]},
   "mark": {"type":"text","align":"left","baseline":"middle","fontSize":21.5,"color":"#000"},
   "encoding": {"x": {"field":"d","type":"temporal","axis":null}, "y": {"field":"v","type":"quantitative","axis":null}, "text": {"field":"t"}}},
  {"data": {"values": [{"d":"2010-08-01","v":5,"t":"5"},{"d":"2010-08-01","v":0,"t":"0"}]},
   "mark": {"type":"text","align":"left","baseline":"middle","fontSize":19,"color":"#000","dx":8},
   "encoding": {"x": {"field":"d","type":"temporal","axis":null}, "y": {"field":"v","type":"quantitative","axis":null}, "text": {"field":"t"}}}
 ]
},
{"width": 1, "height": 7, "data": {"values": [{}]}, "mark": {"type":"point","opacity":0}, "view": {"stroke": "transparent"}},
{
 "width": 1180, "height": 400,
 "layer": [
  {"data": {"name": "congo", "values": [
{"d":"2009-08-01","lo":22.9,"hi":37.1,"m":28.8},{"d":"2009-08-08","lo":22.8,"hi":37.5,"m":28.5},{"d":"2009-08-13","lo":22.7,"hi":37.5,"m":28.6},{"d":"2009-08-17","lo":23.2,"hi":35.9,"m":29.2},{"d":"2009-08-22","lo":24.7,"hi":36.0,"m":30.0},{"d":"2009-08-29","lo":25.0,"hi":36.8,"m":31.3},{"d":"2009-09-03","lo":25.8,"hi":38.8,"m":32.1},{"d":"2009-09-10","lo":27.0,"hi":40.3,"m":33.2},{"d":"2009-09-17","lo":27.8,"hi":41.0,"m":35.0},{"d":"2009-09-24","lo":28.5,"hi":41.5,"m":36.7},{"d":"2009-10-01","lo":30.2,"hi":43.2,"m":38.0},{"d":"2009-10-08","lo":32.8,"hi":44.7,"m":39.7},{"d":"2009-10-15","lo":34.0,"hi":47.1,"m":41.5},{"d":"2009-10-20","lo":35.3,"hi":50.3,"m":42.6},{"d":"2009-10-26","lo":36.5,"hi":52.2,"m":44.4},{"d":"2009-11-02","lo":38.0,"hi":52.9,"m":46.4},{"d":"2009-11-07","lo":39.4,"hi":55.5,"m":47.7},{"d":"2009-11-12","lo":40.9,"hi":58.0,"m":49.2},{"d":"2009-11-18","lo":42.0,"hi":59.6,"m":50.6},{"d":"2009-11-25","lo":43.0,"hi":61.2,"m":52.0},{"d":"2009-12-02","lo":43.8,"hi":62.8,"m":53.2},{"d":"2009-12-08","lo":43.4,"hi":64.1,"m":54.3},{"d":"2009-12-14","lo":41.8,"hi":67.3,"m":54.6},{"d":"2009-12-19","lo":40.5,"hi":67.1,"m":54.6},{"d":"2009-12-25","lo":38.9,"hi":66.6,"m":54.3},{"d":"2010-01-01","lo":36.5,"hi":65.1,"m":53.2},{"d":"2010-01-07","lo":34.8,"hi":63.8,"m":50.2},{"d":"2010-01-13","lo":33.2,"hi":63.3,"m":46.8},{"d":"2010-01-18","lo":31.5,"hi":61.5,"m":44.2},{"d":"2010-01-24","lo":29.6,"hi":57.5,"m":41.2},{"d":"2010-01-28","lo":28.6,"hi":54.3,"m":39.2},{"d":"2010-02-01","lo":27.5,"hi":50.6,"m":37.7},{"d":"2010-02-05","lo":27.0,"hi":46.7,"m":36.6},{"d":"2010-02-11","lo":26.4,"hi":46.5,"m":35.4},{"d":"2010-02-17","lo":26.1,"hi":46.3,"m":34.5},{"d":"2010-02-24","lo":27.0,"hi":45.6,"m":33.5},{"d":"2010-03-03","lo":27.2,"hi":44.1,"m":32.9},{"d":"2010-03-11","lo":26.5,"hi":42.5,"m":32.6},{"d":"2010-03-18","lo":27.0,"hi":42.0,"m":32.3},{"d":"2010-03-22","lo":27.5,"hi":41.6,"m":32.3},{"d":"2010-03-27","lo":28.3,"hi":42.2,"m":32.5},{"d":"2010-04-02","lo":29.0,"hi":42.0,"m":32.7},{"d":"2010-04-09","lo":29.2,"hi":42.1,"m":33.3},{"d":"2010-04-16","lo":29.7,"hi":43.0,"m":34.8},{"d":"2010-04-22","lo":29.9,"hi":45.0,"m":36.0},{"d":"2010-04-28","lo":30.0,"hi":47.5,"m":37.0},{"d":"2010-05-04","lo":30.0,"hi":49.3,"m":37.4},{"d":"2010-05-11","lo":29.8,"hi":49.8,"m":37.5},{"d":"2010-05-17","lo":29.5,"hi":51.3,"m":37.4},{"d":"2010-05-24","lo":29.0,"hi":51.3,"m":37.3},{"d":"2010-05-31","lo":27.8,"hi":51.2,"m":37.0},{"d":"2010-06-07","lo":27.6,"hi":50.4,"m":36.5},{"d":"2010-06-14","lo":27.5,"hi":49.3,"m":35.8},{"d":"2010-06-21","lo":25.0,"hi":47.3,"m":34.1},{"d":"2010-06-28","lo":23.7,"hi":43.8,"m":32.3},{"d":"2010-07-05","lo":22.9,"hi":40.5,"m":31.1},{"d":"2010-07-12","lo":22.2,"hi":38.5,"m":30.2},{"d":"2010-07-19","lo":21.7,"hi":37.5,"m":29.4},{"d":"2010-07-23","lo":21.8,"hi":37.1,"m":29.2},{"d":"2010-07-28","lo":22.6,"hi":36.2,"m":29.0},{"d":"2010-08-01","lo":22.9,"hi":36.7,"m":28.8}
  ]},
   "mark": {"type":"area","opacity":1},
   "encoding": {"x": {"field":"d","type":"temporal","scale":{"type":"utc","domain":[{"year":2009,"month":8,"date":1,"utc":true},{"year":2010,"month":8,"date":1,"utc":true}],"nice":false},"axis":{"orient":"bottom","format":"%b","tickCount":"month","title":null}},
     "y": {"field":"lo","type":"quantitative","scale":{"domain":[20,70],"nice":false},"axis":{"orient":"left","values":[20,30,40,50,60,70],"title":"Congo River Discharge [x10³ m³s⁻¹]","titleX":-41}}, "y2": {"field":"hi"},
     "fill": {"datum":"Daily Discharge Range 1903-1932","type":"nominal","scale":{"domain":["Daily Discharge Range 1903-1932"],"range":["#d5e1f2"]},
       "legend": {"orient":"none","legendX":772,"legendY":33,"title":null,"padding":0,"labelFontSize":19,"labelColor":"#000","labelLimit":400,"symbolType":"M-1,-0.28H1V0.28H-1Z","symbolSize":4096,"symbolStrokeWidth":0,"symbolOffset":0,"labelOffset":13}}}},
  {"data": {"name": "congo"},
   "mark": {"type":"line","strokeWidth":1.3},
   "encoding": {"x": {"field":"d","type":"temporal","axis":null}, "y": {"field":"m","type":"quantitative","axis":null},
     "stroke": {"datum":"Mean Daily Discharge 1903-1932","type":"nominal","scale":{"domain":["Mean Daily Discharge 1903-1932"],"range":["#1a66cc"]},
       "legend": {"orient":"none","legendX":772,"legendY":8,"title":null,"padding":0,"labelFontSize":19,"labelColor":"#000","labelLimit":400,"symbolType":"stroke","symbolSize":4096,"symbolStrokeWidth":1.5,"symbolOffset":0,"labelOffset":13}}}},
  {"data": {"values": [
{"d":"2009-08-29T19:00:00Z","v":35.4},{"d":"2009-10-07T02:00:00Z","v":41.7},{"d":"2009-10-21T05:00:00Z","v":46.0},{"d":"2009-11-17T02:00:00Z","v":50.3},{"d":"2009-11-25T07:00:00Z","v":52.5},{"d":"2009-11-27T05:00:00Z","v":61.7},{"d":"2009-12-03T02:00:00Z","v":54.0},{"d":"2009-12-08T02:00:00Z","v":62.1},{"d":"2009-12-10","v":54.6},{"d":"2009-12-11T22:00:00Z","v":54.8},{"d":"2009-12-25T02:00:00Z","v":53.5},{"d":"2010-01-02T22:00:00Z","v":55.4},{"d":"2010-01-14T02:00:00Z","v":46.1},{"d":"2010-01-20T22:00:00Z","v":43.3},{"d":"2010-01-25T05:00:00Z","v":41.5},{"d":"2010-02-05T02:00:00Z","v":37.2},{"d":"2010-03-19T05:00:00Z","v":30.6},{"d":"2010-05-02T14:00:00Z","v":37.5},{"d":"2010-05-04T12:00:00Z","v":37.7},{"d":"2010-05-19T14:00:00Z","v":37.4},{"d":"2010-05-30T12:00:00Z","v":36.9},{"d":"2010-06-02T17:00:00Z","v":36.9},{"d":"2010-07-20T19:00:00Z","v":34.9}
  ]},
   "mark": {"type":"point","shape":"M0,-1L0.225,-0.309L0.951,-0.309L0.363,0.118L0.588,0.809L0,0.382L-0.588,0.809L-0.363,0.118L-0.951,-0.309L-0.225,-0.309Z","size":560,"filled":true,"fill":"#ffb400","stroke":"#000","strokeWidth":1.5,"opacity":1},
   "encoding": {"x": {"field":"d","type":"temporal","axis":null}, "y": {"field":"v","type":"quantitative","axis":null}}},
  {"data": {"values": [{"d":"2009-08-06T05:00:00Z","v":65.4,"t":"C. Major River-Fed Canyon"}]},
   "mark": {"type":"text","align":"left","baseline":"middle","fontSize":31,"fontWeight":"bold","color":"#000"},
   "encoding": {"x": {"field":"d","type":"temporal","axis":null}, "y": {"field":"v","type":"quantitative","axis":null}, "text": {"field":"t"}}},
  {"data": {"values": [{"d":"2009-08-06T05:00:00Z","v":60.4,"t":"Congo Canyon Cable Failures"},{"d":"2009-08-06T05:00:00Z","v":56.5,"t":"1893-1932"}]},
   "mark": {"type":"text","align":"left","baseline":"middle","fontSize":24,"color":"#000"},
   "encoding": {"x": {"field":"d","type":"temporal","axis":null}, "y": {"field":"v","type":"quantitative","axis":null}, "text": {"field":"t"}}},
  {"data": {"values": [{"d":"2009-08-06T05:00:00Z","v":49.9,"t":"Flow Duration = Days"},{"d":"2009-08-06T05:00:00Z","v":45.9,"t":"N = 23"}]},
   "mark": {"type":"text","align":"left","baseline":"middle","fontSize":21.5,"color":"#000"},
   "encoding": {"x": {"field":"d","type":"temporal","axis":null}, "y": {"field":"v","type":"quantitative","axis":null}, "text": {"field":"t"}}},
  {"data": {"values": []},
   "mark": {"type":"point","opacity":0},
   "encoding": {"x": {"field":"d","type":"temporal","axis":{"orient":"top","labels":false,"domain":false,"title":null,"tickCount":"month"}}, "y": {"field":"v","type":"quantitative","axis":{"orient":"right","labels":false,"domain":false,"title":null,"values":[20,30,40,50,60,70]}},
     "color": {"field":"q","type":"quantitative","scale":{"domain":[0,1],"range":["rgba(255,255,255,0)","rgba(255,255,255,0)"]},
       "legend": {"orient":"none","legendX":763,"legendY":24,"title":null,"direction":"horizontal","gradientLength":392,"gradientThickness":55,"gradientStrokeColor":"#555","gradientStrokeWidth":1.2,"labelOpacity":0,"labelFontSize":1,"values":[0,1]}}}}
 ]
}
]
}
